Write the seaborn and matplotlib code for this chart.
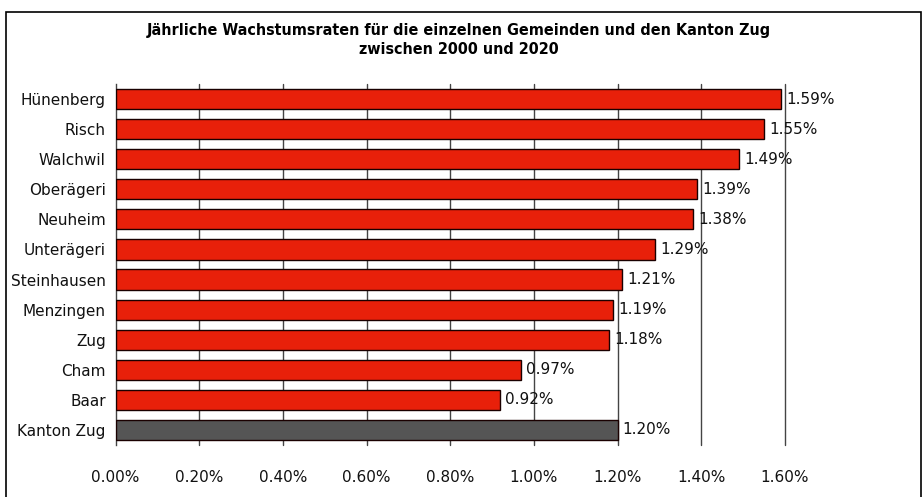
import matplotlib
matplotlib.use("Agg")
import matplotlib.pyplot as plt
import seaborn as sns
import pandas as pd
import numpy as np
from matplotlib import font_manager
from matplotlib.patches import Rectangle

categories = ["Hünenberg", "Risch", "Walchwil", "Oberägeri", "Neuheim", "Unterägeri",
              "Steinhausen", "Menzingen", "Zug", "Cham", "Baar", "Kanton Zug"]
values = [1.59, 1.55, 1.49, 1.39, 1.38, 1.29, 1.21, 1.19, 1.18, 0.97, 0.92, 1.20]
groups = ["Gemeinde"] * 11 + ["Kanton"]
x_ticks = [0.0, 0.2, 0.4, 0.6, 0.8, 1.0, 1.2, 1.4, 1.6]
title = "Jährliche Wachstumsraten für die einzelnen Gemeinden und den Kanton Zug\nzwischen 2000 und 2020"

df = pd.DataFrame({"Gemeinde": categories, "Wert": values, "Gruppe": groups})

sns.set_theme(style="white")
plt.rcParams['font.family'] = ['DejaVu Sans']
fnames = [f.fname for f in font_manager.fontManager.ttflist]
cond_bold = [f for f in fnames if "DejaVuSansCondensed-Bold.ttf" in f]

fig = plt.figure(figsize=(9.24, 4.97), dpi=100)
ax = fig.add_axes([115.5/924, 1-445/497, (785-115.5)/924, (445-84)/497])

sns.barplot(data=df, y="Gemeinde", x="Wert", hue="Gruppe",
            palette={"Gemeinde": "#E8200A", "Kanton": "#555555"}, saturation=1,
            dodge=False, width=0.67, edgecolor="#1a0000", linewidth=1.0,
            legend=False, ax=ax, zorder=3)

ax.set_xlim(0, 1.6)
ax.set_ylim(11.5, -0.5)
ax.set_xticks(x_ticks)
ax.set_xticklabels([f"{t:.2f}%" for t in x_ticks], fontsize=11, color="#111111")
ax.tick_params(axis="x", length=0, pad=18)
ax.tick_params(axis="y", which="major", length=0, pad=7, labelsize=11, labelcolor="#111111")
ax.set_yticks(np.arange(-0.5, 12, 1), minor=True)
ax.tick_params(axis="y", which="minor", length=4, width=1, color="#444444", direction="out")
ax.set_xlabel("")
ax.set_ylabel("")

for t in x_ticks[1:]:
    ax.axvline(t, color="#444444", lw=1.0, zorder=1, clip_on=False)

for s in ["top", "right", "bottom"]:
    ax.spines[s].set_visible(False)
ax.spines["left"].set_color("#444444")
ax.spines["left"].set_linewidth(1.0)

for i, v in enumerate(values):
    ax.text(v + 0.012, i, f"{v:.2f}%", va="center", ha="left", fontsize=11,
            color="#111111", zorder=4)

if cond_bold:
    fp = font_manager.FontProperties(fname=cond_bold[0], size=11.5)
    fig.text(0.497, 1-40/497, title, ha="center", va="center",
             fontproperties=fp, color="black", linespacing=1.3)
else:
    fig.text(0.497, 1-40/497, title, ha="center", va="center", fontsize=11.5,
             fontweight="bold", fontstretch="condensed", color="black", linespacing=1.3)

fig.patches.append(Rectangle((6/924, -0.01), (921-6)/924, 1-12/497+0.01,
                             transform=fig.transFigure, fill=False,
                             edgecolor="black", lw=1.2))

fig.savefig("out.png", dpi=100)
